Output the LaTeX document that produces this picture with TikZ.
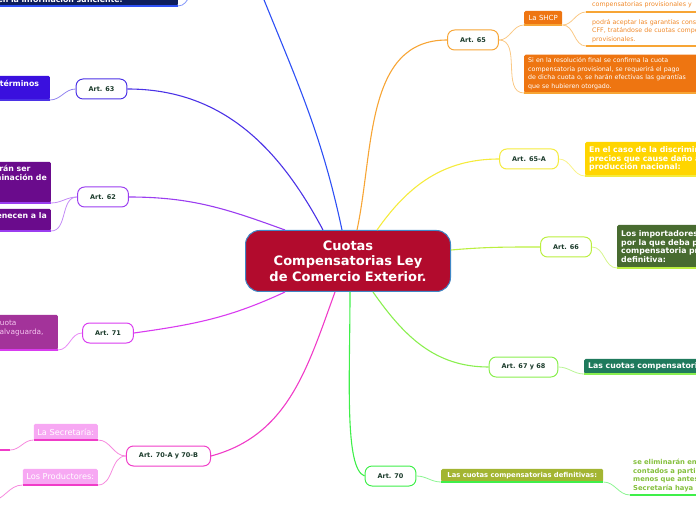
\documentclass[tikz,border=0pt]{standalone}
\usepackage{fontspec}
\setmainfont{DejaVu Sans}
\usetikzlibrary{calc}
\definecolor{mapred}{HTML}{B20B2D}
\definecolor{mapedge}{HTML}{3F87C6}
\definecolor{arttext}{HTML}{1B3B2B}
\definecolor{coltop}{HTML}{2E50F5}
\definecolor{boxtop}{HTML}{0E1E5C}
\definecolor{col63}{HTML}{4B32E6}
\definecolor{box63}{HTML}{3A10DE}
\definecolor{col62}{HTML}{9B3DF0}
\definecolor{box62}{HTML}{6A0B8C}
\definecolor{col71}{HTML}{D93BF0}
\definecolor{box71}{HTML}{A3339A}
\definecolor{txt71}{HTML}{F4C5EF}
\definecolor{col70ab}{HTML}{F03CC8}
\definecolor{box70ab}{HTML}{F7A8F3}
\definecolor{col65}{HTML}{F7A535}
\definecolor{box65}{HTML}{EE7511}
\definecolor{txt65}{HTML}{F0892A}
\definecolor{col65A}{HTML}{F5EB3C}
\definecolor{box65A}{HTML}{FFD500}
\definecolor{col66}{HTML}{BBEF3F}
\definecolor{box66}{HTML}{486B30}
\definecolor{col6768}{HTML}{8AEF4F}
\definecolor{box6768}{HTML}{1F7A5C}
\definecolor{col70}{HTML}{3FEF4A}
\definecolor{box70}{HTML}{A3B532}
\definecolor{txt70}{HTML}{84BF3C}
\newcommand\artfont{\fontsize{6.5}{8}\selectfont\bfseries}
\newcommand\leaffont{\fontsize{7.8}{9}\selectfont\bfseries}
\newcommand\notefont{\fontsize{6.3}{8.6}\selectfont}
\tikzset{
  art/.style={draw=#1, fill=white, line width=1pt, rounded corners=7pt,
    minimum height=20pt, inner xsep=12.5pt, inner ysep=2pt, font=\artfont, text=arttext},
  branch/.style={draw=#1, line width=1.1pt},
  twig/.style={draw=#1!60, line width=0.8pt},
  ul/.style={draw=#1, line width=1.5pt},
  leaf/.style={fill=#1, rounded corners=1.5pt, inner xsep=4pt, inner ysep=3pt,
    align=left, text=white, font=\leaffont},
  note/.style={anchor=south west, inner xsep=6pt, inner ysep=3pt, align=left,
    text=#1, font=\notefont},
}

\begin{document}
\begin{tikzpicture}[x=1pt,y=1pt]
  \useasboundingbox (0,0) rectangle (696,520);
  \clip (0,0) rectangle (696,520);

  % centre
  \node[draw=mapedge, fill=mapred, line width=1pt, rounded corners=14pt,
    minimum width=205pt, minimum height=61pt, align=center, text=white,
    font=\fontsize{13}{15.5}\selectfont\bfseries] (title) at (348,259)
    {Cuotas\\Compensatorias Ley\\de Comercio Exterior.};

  % articles
  \node[art=col63] (a63) at (101.5,431) {Art. 63};
  \node[art=col62] (a62) at (103,323) {Art. 62};
  \node[art=col71] (a71) at (108,187) {Art. 71};
  \node[art=col70ab] (a70ab) at (168.5,64) {Art. 70-A y 70-B};
  \node[art=col65] (a65) at (473,480) {Art. 65};
  \node[art=col65A] (a65A) at (529,361) {Art. 65-A};
  \node[art=col66] (a66) at (566,273) {Art. 66};
  \node[art=col6768] (a6768) at (523.5,153) {Art. 67 y 68};
  \node[art=col70] (a70) at (390.5,44) {Art. 70};
  \coordinate (topend) at (260,530);

  \draw[branch=coltop] ($(title.north)+(-6,0)$) to[out=102,in=-68] (topend);
  \draw[branch=col63] ($(title.north)+(-25,0)$) to[out=118,in=0] (a63.east);
  \draw[branch=col62] ($(title.north west)+(40,0)$) to[out=160,in=0] (a62.east);
  \draw[branch=col71] ($(title.south west)+(40,0)$) to[out=-155,in=8] (a71.east);
  \draw[branch=col70ab] ($(title.south)+(-13,0)$) to[out=-110,in=15] (a70ab.east);
  \draw[branch=col65] ($(title.north)+(9,0)$) to[out=78,in=180] (a65.west);
  \draw[branch=col65A] ($(title.north)+(29,0)$) to[out=55,in=180] (a65A.west);
  \draw[branch=col66] ($(title.east)+(0,11)$) to[out=5,in=180] (a66.west);
  \draw[branch=col6768] ($(title.south)+(25,0)$) to[out=-55,in=180] (a6768.west);
  \draw[branch=col70] ($(title.south)+(2,0)$) to[out=-90,in=160,out looseness=1.2,in looseness=0.3] (a70.west);

  % left leaves
  \node[leaf=boxtop, anchor=south east, text width=224pt, inner ysep=1.5pt] (btop) at (178,514)
    {proporcionen la información suficiente.};
  \node[leaf=box63, anchor=south east, text width=46pt, minimum height=24pt] (b63) at (50,420)
    {términos\\~};
  \node[leaf=box62, anchor=south east, minimum height=41pt] (b62a) at (51,317)
    {podrán ser\\eliminación de\\~\\~};
  \node[leaf=box62, anchor=south east, minimum height=22pt] (b62b) at (51,289)
    {pertenecen a la\\~};
  \node[leaf=box71, anchor=south east, text width=58pt, minimum height=35pt, text=txt71,
    font=\fontsize{7.4}{9.8}\selectfont] (b71) at (58,170)
    {cuota\\salvaguarda,\\~};
  \node[leaf=box70ab, anchor=south east, minimum width=64pt, minimum height=16pt, inner xsep=2pt,
    font=\fontsize{8.2}{9}\selectfont] (b70a) at (98,80) {La Secretaría:};
  \node[leaf=box70ab, anchor=south east, minimum width=75pt, minimum height=16pt, inner xsep=2pt,
    font=\fontsize{8.2}{9}\selectfont] (b70b) at (98,35) {Los Productores:};
  \coordinate (toppar) at (202,535);
  \coordinate (secr) at (10,70);
  \coordinate (prod) at (-10,19);

  % right leaves
  \node[leaf=box65, anchor=south west, minimum width=38pt, minimum height=14pt, inner xsep=2pt,
    font=\fontsize{7}{8}\selectfont] (bshcp) at (524,495) {La SHCP};
  \node[leaf=box65, anchor=south west, text width=250pt, minimum height=38pt,
    font=\notefont] (b65) at (524,427)
    {Si en la resolución final se confirma la cuota\\compensatoria provisional, se requerirá el pago\\de dicha cuota o, se harán efectivas las garantías\\que se hubieren otorgado.};
  \node[note=txt65, text width=250pt, inner ysep=4pt] (t65a) at (586,508)
    {compensatorias provisionales y};
  \node[note=txt65, text width=250pt] (t65b) at (586,474)
    {podrá aceptar las garantías constituidas\\CFF, tratándose de cuotas compensatorias\\provisionales.};
  \node[leaf=box65A, anchor=south west, text width=250pt, minimum height=34pt,
    font=\fontsize{7.8}{8.8}\selectfont\bfseries] (b65A) at (585,344)
    {En el caso de la discriminación de\\precios que cause daño a la\\producción nacional:};
  \node[leaf=box66, anchor=south west, text width=250pt, minimum height=43pt,
    font=\fontsize{7.8}{8.7}\selectfont\bfseries] (b66) at (617,252)
    {Los importadores de una mercancía\\por la que deba pagarse una cuota\\compensatoria provisional o\\definitiva:};
  \node[leaf=box6768, anchor=south west, text width=250pt, minimum height=15pt] (b6768) at (584,146)
    {Las cuotas compensatorias};
  \node[leaf=box70, anchor=south west, minimum width=162pt, minimum height=13pt, inner xsep=2pt,
    inner ysep=2pt, font=\fontsize{6.8}{8}\selectfont\bfseries] (b70) at (441,38)
    {Las cuotas compensatorias definitivas:};
  \node[note=txt70, text width=250pt, inner xsep=3pt, font=\fontsize{6.8}{8.6}\selectfont\bfseries] (t70) at (630,25)
    {se eliminarán en un plazo de 5 años,\\contados a partir de su entrada en vigor\\menos que antes de concluir dicho plazo\\Secretaría haya iniciado un procedimiento};

  % twigs
  \draw[twig=coltop] (btop.south east) to[out=0,in=180] (toppar);
  \draw[twig=col63] (a63.west) to[out=180,in=0] (b63.south east);
  \draw[twig=col62] (a62.west) to[out=180,in=0] (b62a.south east);
  \draw[twig=col62] (a62.west) to[out=180,in=0] (b62b.south east);
  \draw[twig=col71] (a71.west) to[out=180,in=0] (b71.south east);
  \draw[twig=col70ab] (a70ab.west) to[out=180,in=0] (b70a.south east);
  \draw[twig=col70ab] (a70ab.west) to[out=180,in=0] (b70b.south east);
  \draw[twig=col70ab] (b70a.south west) to[out=180,in=0] (secr);
  \draw[twig=col70ab] (b70b.south west) to[out=180,in=0] (prod);
  \draw[twig=col65] (a65.east) to[out=0,in=180] (bshcp.south west);
  \draw[twig=col65] (a65.east) to[out=0,in=180] (b65.south west);
  \draw[twig=col65] (bshcp.south east) to[out=0,in=180] (t65a.south west);
  \draw[twig=col65] (bshcp.south east) to[out=0,in=180] (t65b.south west);
  \draw[twig=col65A] (a65A.east) to[out=0,in=180] (b65A.south west);
  \draw[twig=col66] (a66.east) to[out=0,in=180] (b66.south west);
  \draw[twig=col6768] (a6768.east) to[out=0,in=180] (b6768.south west);
  \draw[twig=col70] (a70.east) to[out=0,in=180] (b70.south west);
  \draw[twig=col70] (b70.south east) to[out=0,in=180] (t70.south west);

  % underlines
  \draw[ul=coltop] (btop.south west) -- (btop.south east);
  \draw[ul=col63] (b63.south west) -- (b63.south east);
  \draw[ul=col62] (b62a.south west) -- (b62a.south east);
  \draw[ul=col62] (b62b.south west) -- (b62b.south east);
  \draw[ul=col71] (b71.south west) -- (b71.south east);
  \draw[ul=col70ab] (b70a.south west) -- (b70a.south east);
  \draw[ul=col70ab] (b70b.south west) -- (b70b.south east);
  \draw[ul=col70ab] (secr) -- ++(-30,0);
  \draw[ul=col65] (bshcp.south west) -- (bshcp.south east);
  \draw[ul=col65] (b65.south west) -- (b65.south east);
  \draw[ul=col65] (t65a.south west) -- (t65a.south east);
  \draw[ul=col65] (t65b.south west) -- (t65b.south east);
  \draw[ul=col65A] (b65A.south west) -- (b65A.south east);
  \draw[ul=col66] (b66.south west) -- (b66.south east);
  \draw[ul=col6768] (b6768.south west) -- (b6768.south east);
  \draw[ul=col70] (b70.south west) -- (b70.south east);
  \draw[ul=col70] (t70.south west) -- (t70.south east);
\end{tikzpicture}
\end{document}
